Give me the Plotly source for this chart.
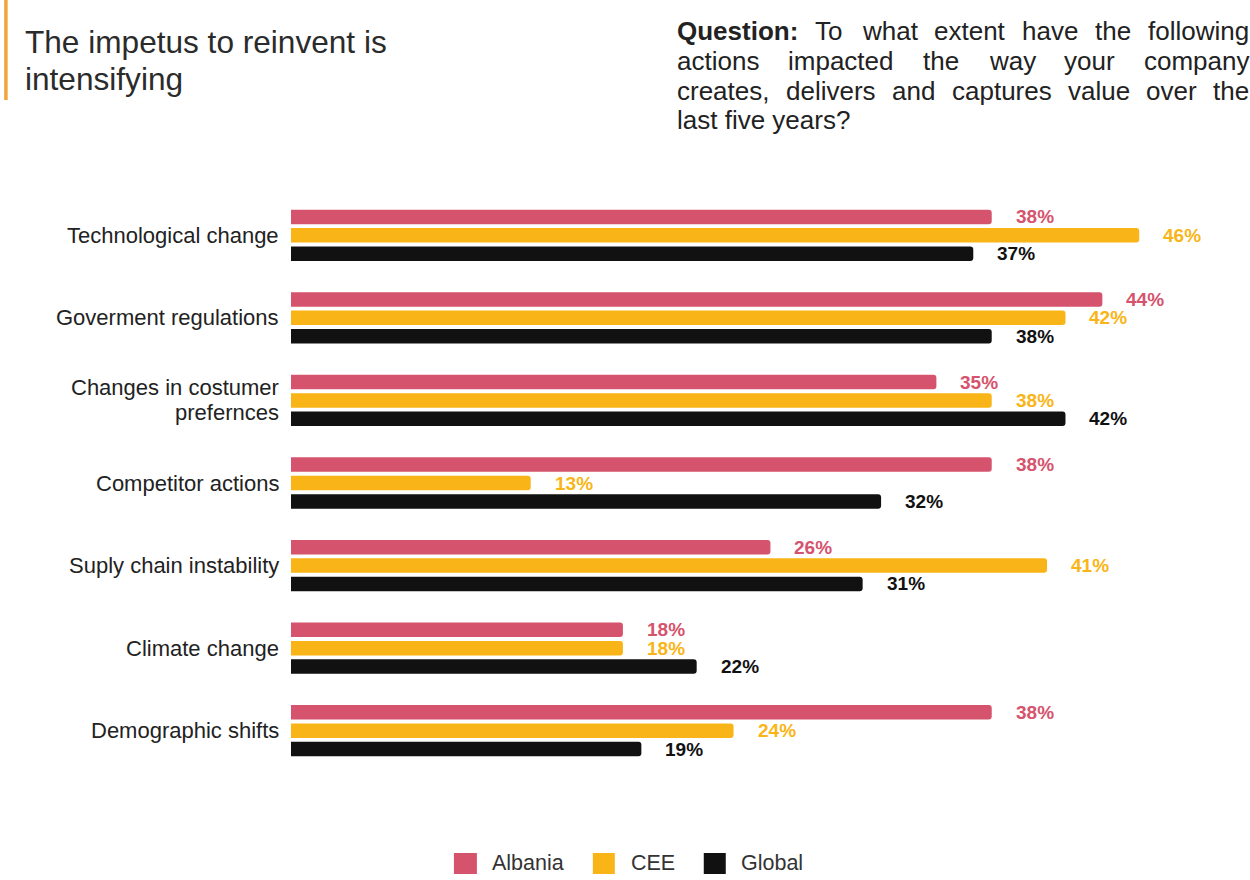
import plotly.graph_objects as go

# ---- data -------------------------------------------------------------
CATEGORIES = [
    "Technological change",
    "Goverment regulations",
    "Changes in costumer<br>prefernces",
    "Competitor actions",
    "Suply chain instability",
    "Climate change",
    "Demographic shifts",
]
SERIES = ["Albania", "CEE", "Global"]
ALBANIA = [38, 44, 35, 38, 26, 18, 38]
CEE = [46, 42, 38, 13, 41, 18, 24]
GLOBAL = [37, 38, 42, 32, 31, 22, 19]

TITLE_LINES = ["The impetus to reinvent is", "intensifying"]
QUESTION_LINES = [
    "Question: To what extent have the following",
    "actions impacted the way your company",
    "creates, delivers and captures value over the",
    "last five years?",
]

# ---- styling ----------------------------------------------------------
COLORS = ["#D6536D", "#F9B517", "#111111"]
FONT = "Liberation Sans, Arial, Helvetica, sans-serif"
TEXT = "#222222"

W, H = 1250, 880
L, T = 291, 194          # plot-area origin (px)
X_MAX = 50
PX_PER_UNIT = 18.45
PW = X_MAX * PX_PER_UNIT
PH = 578
R = W - L - PW
B = H - T - PH

BAR_PITCH = 0.2228       # distance between bars inside a group (y units)
BAR_W = 0.1755


def px_x(px):
    return (px - L) / PW


def px_y(py):
    return (T + PH - py) / PH


fig = go.Figure()
annotations = []
shapes = []

values = [ALBANIA, CEE, GLOBAL]
for s, (name, vals, color) in enumerate(zip(SERIES, values, COLORS)):
    off = (s - 1) * BAR_PITCH
    ys = [k + off for k in range(len(CATEGORIES))]
    fig.add_trace(go.Bar(
        x=vals, y=ys, orientation="h", width=BAR_W, name=name,
        marker=dict(color=color, cornerradius=3, line=dict(width=0)),
        showlegend=False, hoverinfo="skip",
    ))
    # value labels; a fixed box height keeps stacked labels from colliding
    for v, y in zip(vals, ys):
        annotations.append(dict(
            x=v, y=y, xref="x", yref="y", text=f"<b>{v}%</b>",
            showarrow=False, xanchor="left", yanchor="middle", xshift=23,
            height=17, borderpad=0,
            font=dict(family=FONT, size=19, color=color),
        ))

# category labels (right-aligned, left of the bars)
for k, cat in enumerate(CATEGORIES):
    lines = cat.split("<br>")
    n = len(lines)
    for i, line in enumerate(lines):
        annotations.append(dict(
            x=0, y=k, xref="paper", yref="y", text=line, showarrow=False,
            xanchor="right", yanchor="middle", xshift=-10,
            yshift=((n - 1) / 2 - i) * 25,
            font=dict(family=FONT, size=22, color=TEXT),
        ))

# title block with accent bar
shapes.append(dict(type="rect", xref="paper", yref="paper",
                   x0=px_x(4), x1=px_x(7.5), y0=px_y(100), y1=px_y(0),
                   fillcolor="#F0A43A", line=dict(width=0)))
for i, (line, cy) in enumerate(zip(TITLE_LINES, [41.5, 79])):
    annotations.append(dict(
        x=px_x(23), y=px_y(cy), xref="paper", yref="paper", text=line,
        showarrow=False, xanchor="left", yanchor="middle",
        font=dict(family=FONT, size=31.6, color="#2b2b2b"),
    ))

# justified question paragraph (Arial metrics, 1/1000 em)
REG = {'a': 556, 'b': 556, 'c': 500, 'd': 556, 'e': 556, 'f': 278, 'g': 556,
       'h': 556, 'i': 222, 'k': 500, 'l': 222, 'm': 833, 'n': 556, 'o': 556,
       'p': 556, 'r': 333, 's': 500, 't': 278, 'u': 556, 'v': 500, 'w': 722,
       'x': 500, 'y': 500, 'T': 611, ',': 278, '?': 556, ':': 278}
BOLD = {'Q': 778, 'u': 611, 'e': 556, 's': 556, 't': 333, 'i': 278,
        'o': 611, 'n': 611, ':': 333}
Q_SIZE = 26
Q_LEFT, Q_RIGHT = 675, 1248
Q_CENTERS = [31.5, 61, 90.5, 120]


def word_width(word, bold):
    table = BOLD if bold else REG
    return sum(table.get(ch, 556) for ch in word) * Q_SIZE / 1000


for li, (line, cy) in enumerate(zip(QUESTION_LINES, Q_CENTERS)):
    last = li == len(QUESTION_LINES) - 1
    words = line.split()
    if last:
        annotations.append(dict(
            x=px_x(Q_LEFT), y=px_y(cy), xref="paper", yref="paper", text=line,
            showarrow=False, xanchor="left", yanchor="middle",
            font=dict(family=FONT, size=Q_SIZE, color=TEXT),
        ))
        continue
    bold_flags = [li == 0 and wi == 0 for wi in range(len(words))]
    widths = [word_width(w, b) for w, b in zip(words, bold_flags)]
    gap = (Q_RIGHT - Q_LEFT - sum(widths)) / (len(words) - 1)
    x = Q_LEFT
    for w, b, wd in zip(words, bold_flags, widths):
        annotations.append(dict(
            x=px_x(x), y=px_y(cy), xref="paper", yref="paper",
            text=f"<b>{w}</b>" if b else w,
            showarrow=False, xanchor="left", yanchor="middle",
            font=dict(family=FONT, size=Q_SIZE, color=TEXT),
        ))
        x += wd + gap

# legend drawn below the chart
LEG_SQ = [(454, 477), (593, 615), (704, 726)]
LEG_TX = [490, 629, 739]
for name, color, (x0, x1), tx in zip(SERIES, COLORS, LEG_SQ, LEG_TX):
    shapes.append(dict(type="rect", xref="paper", yref="paper",
                       x0=px_x(x0), x1=px_x(x1), y0=px_y(874), y1=px_y(853),
                       fillcolor=color, line=dict(width=0)))
    annotations.append(dict(
        x=px_x(tx), y=px_y(863), xref="paper", yref="paper", text=name,
        showarrow=False, xanchor="left", yanchor="middle",
        font=dict(family=FONT, size=21.5, color="#333333"),
    ))

fig.update_layout(
    width=W, height=H,
    margin=dict(l=L, r=R, t=T, b=B),
    paper_bgcolor="white", plot_bgcolor="white",
    barmode="overlay",
    xaxis=dict(range=[0, X_MAX], visible=False, fixedrange=True),
    yaxis=dict(range=[len(CATEGORIES) - 0.5, -0.5], visible=False,
               fixedrange=True),
    annotations=annotations,
    shapes=shapes,
    font=dict(family=FONT),
)

fig.write_html("out.html", config={"displayModeBar": False})
